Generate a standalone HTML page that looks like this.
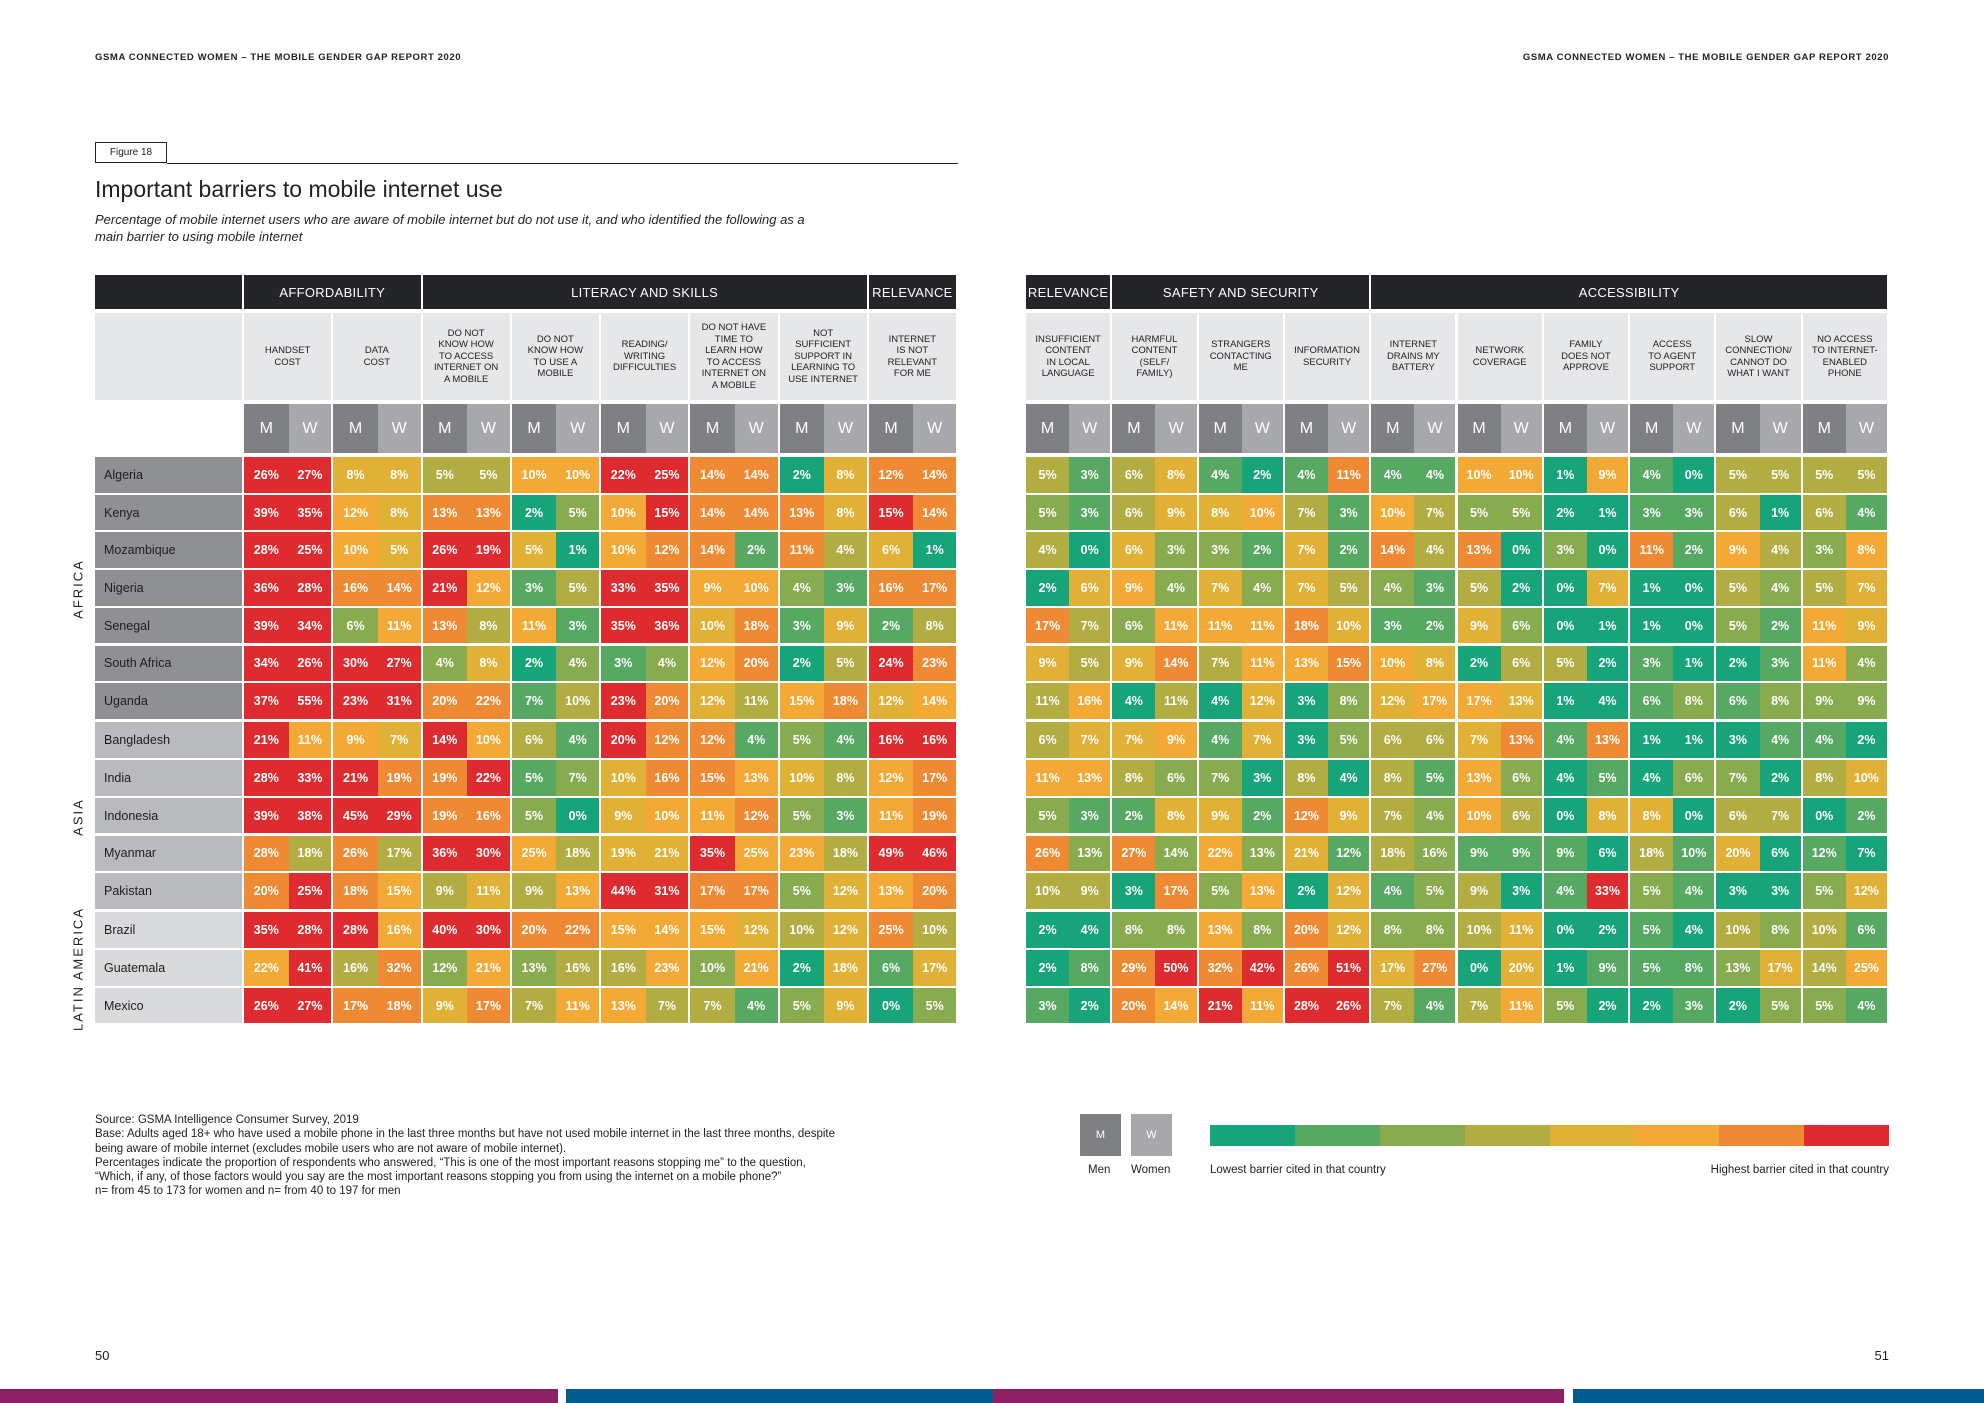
<!DOCTYPE html>
<html><head><meta charset="utf-8">
<style>
body{margin:0;width:1984px;height:1403px;position:relative;background:#fff;font-family:"Liberation Sans",sans-serif;overflow:hidden;color:#222}
.a{position:absolute}
.hd{font-size:9.5px;font-weight:bold;letter-spacing:.6px;top:52px}
.cat{background:#232528;color:#fff;font-size:13px;display:flex;align-items:center;justify-content:center;letter-spacing:.3px}
.ch{background:#e6e7e8;font-size:9.5px;line-height:11.5px;text-align:center;display:flex;align-items:center;justify-content:center;color:#222}
.mw{color:#fff;font-size:16px;display:flex;align-items:center;justify-content:center}
.cell{color:#fff;font-size:12.5px;font-weight:bold;display:flex;align-items:center;justify-content:center}
.cty{font-size:12.5px;display:flex;align-items:center;padding-left:9px;box-sizing:border-box;color:#1e1e1e}
.reg{font-size:13px;letter-spacing:2px;transform:translate(-50%,-50%) rotate(-90deg);white-space:nowrap}
.src{font-size:11.5px;line-height:14.3px}
</style></head><body>
<div class="a hd" style="left:95px">GSMA CONNECTED WOMEN – THE MOBILE GENDER GAP REPORT 2020</div>
<div class="a hd" style="right:95px">GSMA CONNECTED WOMEN – THE MOBILE GENDER GAP REPORT 2020</div>
<div class="a" style="left:95px;top:142px;width:72px;height:21px;border:1px solid #222;box-sizing:border-box;font-size:10px;display:flex;align-items:center;justify-content:center">Figure 18</div>
<div class="a" style="left:167px;top:163px;width:791px;height:1px;background:#222"></div>
<div class="a" style="left:95px;top:176px;font-size:23px">Important barriers to mobile internet use</div>
<div class="a" style="left:95px;top:212px;font-size:13px;font-style:italic;line-height:16.5px;width:860px">Percentage of mobile internet users who are aware of mobile internet but do not use it, and who identified the following as a<br>main barrier to using mobile internet</div>
<div id="chart"></div>
<div class="a src" style="left:95px;top:1113px;width:860px">Source: GSMA Intelligence Consumer Survey, 2019<br>Base: Adults aged 18+ who have used a mobile phone in the last three months but have not used mobile internet in the last three months, despite<br>being aware of mobile internet (excludes mobile users who are not aware of mobile internet).<br>Percentages indicate the proportion of respondents who answered, “This is one of the most important reasons stopping me” to the question,<br>“Which, if any, of those factors would you say are the most important reasons stopping you from using the internet on a mobile phone?”<br>n= from 45 to 173 for women and n= from 40 to 197 for men</div>
<div class="a mw" style="left:1080px;top:1114px;width:41px;height:42px;background:#7f8084;font-size:11px">M</div>
<div class="a mw" style="left:1131px;top:1114px;width:41px;height:42px;background:#a7a8ab;font-size:11px">W</div>
<div class="a" style="left:1088px;top:1164px;font-size:11.5px">Men</div>
<div class="a" style="left:1131px;top:1164px;font-size:11.5px">Women</div>
<div id="grad" class="a" style="left:1210px;top:1125px;width:679px;height:21px;display:flex"></div>
<div class="a" style="left:1210px;top:1164px;font-size:11.5px">Lowest barrier cited in that country</div>
<div class="a" style="right:95px;top:1164px;font-size:11.5px">Highest barrier cited in that country</div>
<div class="a" style="left:95px;top:1348px;font-size:13px">50</div>
<div class="a" style="right:95px;top:1348px;font-size:13px">51</div>
<div class="a" style="left:0;top:1389px;width:558px;height:14px;background:#8b2162"></div>
<div class="a" style="left:566px;top:1389px;width:427px;height:14px;background:#005b8e"></div>
<div class="a" style="left:993px;top:1389px;width:571px;height:14px;background:#8b2162"></div>
<div class="a" style="left:1573px;top:1389px;width:411px;height:14px;background:#005b8e"></div>
<script>
const countries=["Algeria","Kenya","Mozambique","Nigeria","Senegal","South Africa","Uganda","Bangladesh","India","Indonesia","Myanmar","Pakistan","Brazil","Guatemala","Mexico"];
const regions=["AFRICA","ASIA","LATIN AMERICA"];
const regionSizes=[7,5,3];
const leftCategories=[["AFFORDABILITY",2],["LITERACY AND SKILLS",5],["RELEVANCE",1]];
const leftBarriers=["HANDSET<br>COST","DATA<br>COST","DO NOT<br>KNOW HOW<br>TO ACCESS<br>INTERNET ON<br>A MOBILE","DO NOT<br>KNOW HOW<br>TO USE A<br>MOBILE","READING/<br>WRITING<br>DIFFICULTIES","DO NOT HAVE<br>TIME TO<br>LEARN HOW<br>TO ACCESS<br>INTERNET ON<br>A MOBILE","NOT<br>SUFFICIENT<br>SUPPORT IN<br>LEARNING TO<br>USE INTERNET","INTERNET<br>IS NOT<br>RELEVANT<br>FOR ME"];
const rightCategories=[["RELEVANCE",1],["SAFETY AND SECURITY",3],["ACCESSIBILITY",6]];
const rightBarriers=["INSUFFICIENT<br>CONTENT<br>IN LOCAL<br>LANGUAGE","HARMFUL<br>CONTENT<br>(SELF/<br>FAMILY)","STRANGERS<br>CONTACTING<br>ME","INFORMATION<br>SECURITY","INTERNET<br>DRAINS MY<br>BATTERY","NETWORK<br>COVERAGE","FAMILY<br>DOES NOT<br>APPROVE","ACCESS<br>TO AGENT<br>SUPPORT","SLOW<br>CONNECTION/<br>CANNOT DO<br>WHAT I WANT","NO ACCESS<br>TO INTERNET-<br>ENABLED<br>PHONE"];
const leftValues=[
[26,27,8,8,5,5,10,10,22,25,14,14,2,8,12,14],
[39,35,12,8,13,13,2,5,10,15,14,14,13,8,15,14],
[28,25,10,5,26,19,5,1,10,12,14,2,11,4,6,1],
[36,28,16,14,21,12,3,5,33,35,9,10,4,3,16,17],
[39,34,6,11,13,8,11,3,35,36,10,18,3,9,2,8],
[34,26,30,27,4,8,2,4,3,4,12,20,2,5,24,23],
[37,55,23,31,20,22,7,10,23,20,12,11,15,18,12,14],
[21,11,9,7,14,10,6,4,20,12,12,4,5,4,16,16],
[28,33,21,19,19,22,5,7,10,16,15,13,10,8,12,17],
[39,38,45,29,19,16,5,0,9,10,11,12,5,3,11,19],
[28,18,26,17,36,30,25,18,19,21,35,25,23,18,49,46],
[20,25,18,15,9,11,9,13,44,31,17,17,5,12,13,20],
[35,28,28,16,40,30,20,22,15,14,15,12,10,12,25,10],
[22,41,16,32,12,21,13,16,16,23,10,21,2,18,6,17],
[26,27,17,18,9,17,7,11,13,7,7,4,5,9,0,5]];
const rightValues=[
[5,3,6,8,4,2,4,11,4,4,10,10,1,9,4,0,5,5,5,5],
[5,3,6,9,8,10,7,3,10,7,5,5,2,1,3,3,6,1,6,4],
[4,0,6,3,3,2,7,2,14,4,13,0,3,0,11,2,9,4,3,8],
[2,6,9,4,7,4,7,5,4,3,5,2,0,7,1,0,5,4,5,7],
[17,7,6,11,11,11,18,10,3,2,9,6,0,1,1,0,5,2,11,9],
[9,5,9,14,7,11,13,15,10,8,2,6,5,2,3,1,2,3,11,4],
[11,16,4,11,4,12,3,8,12,17,17,13,1,4,6,8,6,8,9,9],
[6,7,7,9,4,7,3,5,6,6,7,13,4,13,1,1,3,4,4,2],
[11,13,8,6,7,3,8,4,8,5,13,6,4,5,4,6,7,2,8,10],
[5,3,2,8,9,2,12,9,7,4,10,6,0,8,8,0,6,7,0,2],
[26,13,27,14,22,13,21,12,18,16,9,9,9,6,18,10,20,6,12,7],
[10,9,3,17,5,13,2,12,4,5,9,3,4,33,5,4,3,3,5,12],
[2,4,8,8,13,8,20,12,8,8,10,11,0,2,5,4,10,8,10,6],
[2,8,29,50,32,42,26,51,17,27,0,20,1,9,5,8,13,17,14,25],
[3,2,20,14,21,11,28,26,7,4,7,11,5,2,2,3,2,5,5,4]];
const palette=["#17a47b","#56a862","#89ab4f","#b2ad43","#e0b136","#f2a935","#ee8a33","#dd2b30"];

const chart=document.getElementById('chart');
function box(cls,x,y,w,h,html,bg,name,inter){
  const d=document.createElement('div');
  d.className='a '+cls;
  d.style.cssText=`left:${x}px;top:${y}px;width:${w}px;height:${h}px;`+(bg?`background:${bg};`:'');
  d.innerHTML=html;
  
  
  chart.appendChild(d);return d;
}
const catY=275,catH=34,chY=313,chH=87,mwY=404,mwH=49,rowY=457,rowH=37.7,gap=2;
function rowTop(i){let extra=0;if(i>=7)extra+=1.5;if(i>=12)extra+=1.5;return rowY+i*rowH+extra;}
function colorIndex(all,v){let b=0,e=0;for(const x of all){if(x<v)b++;else if(x===v)e++;}return Math.min(7,Math.floor((b+e/2)/all.length*8));}
function xScale(x0,x1,n){const w=(x1-x0)/n;return i=>x0+i*w;}
function drawTable(x0,x1,cats,barriers,vals,side){
  const n=barriers.length*2,cw=(x1-x0)/n,xs=xScale(x0,x1,n);
  let ci=0;
  for(const [c,k] of cats){box('cat',xs(ci),catY,k*2*cw-gap,catH,c,null,side+'-category-'+c.toLowerCase().replace(/ /g,'-'),false);ci+=k*2;}
  barriers.forEach((b,j)=>{
    box('ch',xs(j*2),chY,2*cw-gap,chH,b,null,side+'-column-header',false);
    box('mw',xs(j*2),mwY,cw,mwH,'M','#7f8084',side+'-men-header',false);
    box('mw',xs(j*2+1),mwY,cw-gap,mwH,'W','#a7a8ab',side+'-women-header',false);
  });
  vals.forEach((row,i)=>{
    const all=leftValues[i].concat(rightValues[i]);
    row.forEach((v,j)=>{
      const last=j%2===1;
      box('cell',xs(j),rowTop(i),cw-(last?gap:0),rowH-gap,v+'%',palette[colorIndex(all,v)],side+'-cell',false);
    });
  });
}
// country labels & regions
const cbg=["#8f9094","#b9babd","#d9dadc"];
let r0=0;
regions.forEach((reg,k)=>{
  for(let i=r0;i<r0+regionSizes[k];i++) box('cty',95,rowTop(i),147,rowH-gap,countries[i],cbg[k],'country-label',false);
  const yc=(rowTop(r0)+rowTop(r0+regionSizes[k]-1)+rowH)/2;
  const d=box('reg',78,yc,'auto','auto',reg,null,'region-label',false);
  d.style.width='auto';d.style.height='auto';
  r0+=regionSizes[k];
});
box('cat',95,catY,147,catH,'',null,'corner-header',false);
box('ch',95,chY,147,chH,'',null,'corner-subheader',false);
drawTable(244,958,leftCategories,leftBarriers,leftValues,'left');
drawTable(1026,1889,rightCategories,rightBarriers,rightValues,'right');
const g=document.getElementById('grad');
palette.forEach(c=>{const s=document.createElement('div');s.style.cssText=`flex:1;background:${c}`;


g.appendChild(s);});
</script>
</body></html>
